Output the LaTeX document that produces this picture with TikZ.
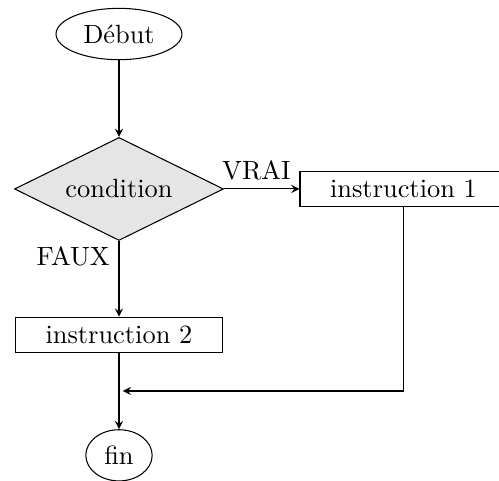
\documentclass[tikz,border=0pt]{standalone}
\usepackage{fontspec}
\usetikzlibrary{calc}
\usetikzlibrary{arrows,shapes.geometric}

\begin{document}
\begin{tikzpicture}
% styles of the blocks
[
    bloc/.style={draw,rectangle,minimum width=2.757cm},
    terminal/.style={draw,ellipse},
    test/.style={draw,diamond,aspect=2,fill=gray!20,minimum width=2.784cm,minimum height=1.372cm},
    fleche/.style={-stealth}
]
% frame
\useasboundingbox (0,0) rectangle (6.647,-6.394);
% main column
\pgfmathsetmacro{\a}{1.585}
\coordinate (C) at (\a,0);
\coordinate (D) at (5.375,0);

% blocks
\node[terminal] (debut) at ($(C)+(0,-0.453)$) {Début};
\node[test] (cond) at ($(C)+(0,-2.517)$) {condition};
\node[bloc] (instr1) at ($(D)+(0,-2.517)$) {instruction 1};
\node[bloc] (instr2) at ($(C)+(0,-4.462)$) {instruction 2};
\node[terminal] (fin) at ($(C)+(0,-6.065)$) {fin};

% joining point
\pgfmathsetmacro{\r}{-5.208}
\coordinate (retour) at ($(C)+(0.05,\r)$);

% arrows
\draw[fleche] (debut) -- (cond);
\draw[fleche] (cond) -- node[above,pos=0.43] {VRAI} (instr1);
\draw[fleche] (cond) -- node[left,pos=0.2] {FAUX} (instr2);
\draw[fleche] (instr2) -- (fin);
\draw[fleche] (instr1.south) |- (retour);
\end{tikzpicture}
\end{document}
